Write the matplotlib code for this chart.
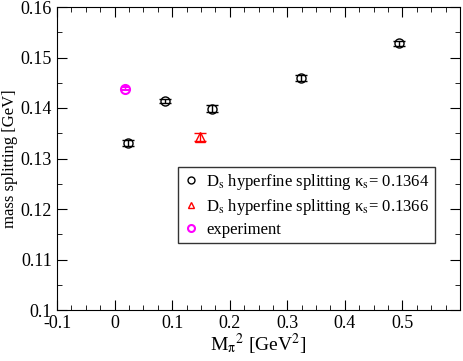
import matplotlib
matplotlib.use("Agg")
import matplotlib.pyplot as plt
from matplotlib.lines import Line2D
from matplotlib.ticker import MultipleLocator

plt.rcParams['font.family'] = ['Liberation Serif', 'DejaVu Serif']
plt.rcParams['mathtext.fontset'] = 'stix'

# D_s hyperfine splitting, kappa_s = 0.1364
mpi2_a = [0.0226, 0.0868, 0.1684, 0.323, 0.4948]
split_a = [0.1331, 0.1414, 0.1399, 0.1459, 0.1528]
err_a = [0.0006, 0.0004, 0.0006, 0.0006, 0.0005]

# kappa_s = 0.1366
mpi2_b = [0.1476]
split_b = [0.1343]
err_b = [0.0008]

# experiment
mpi2_exp = [0.0174]
split_exp = [0.1438]
err_exp = [0.0003]

labels = ['D$_{\\rm s}$ hyperfine splitting \u03ba$_{\\rm s}$= 0.1364',
          'D$_{\\rm s}$ hyperfine splitting \u03ba$_{\\rm s}$= 0.1366',
          'experiment']

fig = plt.figure(figsize=(4.63, 3.61), dpi=100)
ax = fig.add_axes([57/463, 1 - 310/361, 403/463, 303/361])

ax.errorbar(mpi2_a, split_a, yerr=err_a, fmt='o', mfc='none', mec='black',
            ecolor='black', ms=6.5, mew=1, elinewidth=1, capsize=4)
ax.errorbar(mpi2_b, split_b, yerr=err_b, fmt='^', mfc='none', mec='red',
            ecolor='red', ms=6.5, mew=1, elinewidth=1, capsize=4)
ax.errorbar(mpi2_exp, split_exp, yerr=err_exp, fmt='o', mfc='none', mec='magenta',
            ecolor='magenta', ms=6.5, mew=1.5, elinewidth=1, capsize=3)

ax.set_xlim(-0.1, 0.6)
ax.set_ylim(0.1, 0.16)
ax.set_xticks([-0.1, 0, 0.1, 0.2, 0.3, 0.4, 0.5])
ax.set_xticklabels(['-0.1', '0', '0.1', '0.2', '0.3', '0.4', '0.5'])
ax.set_yticks([0.1, 0.11, 0.12, 0.13, 0.14, 0.15, 0.16])
ax.set_yticklabels(['0.1', '0.11', '0.12', '0.13', '0.14', '0.15', '0.16'])
ax.xaxis.set_minor_locator(MultipleLocator(0.025))
ax.yaxis.set_minor_locator(MultipleLocator(0.005))
ax.tick_params(which='both', direction='in', top=True, right=True, labelsize=13)
ax.tick_params(which='major', length=7)
ax.tick_params(which='minor', length=3.5)

ax.set_xlabel(r'M$_{\mathrm{\pi}}$$^2$ [GeV$^2$]', fontsize=14, labelpad=0)
ax.set_ylabel('mass splitting [GeV]', fontsize=12)
ax.yaxis.set_label_coords(-39/403, 0.5)

handles = [
    Line2D([], [], ls='none', marker='o', mfc='none', mec='black', ms=5, mew=1),
    Line2D([], [], ls='none', marker='^', mfc='none', mec='red', ms=5, mew=1),
    Line2D([], [], ls='none', marker='o', mfc='none', mec='magenta', ms=5, mew=1.5),
]
leg = ax.legend(handles, labels, loc='upper left', bbox_to_anchor=(0.30, 0.472),
                fontsize=12, frameon=True, fancybox=False, edgecolor='black',
                handletextpad=0.4, borderpad=0.3, labelspacing=0.3,
                handlelength=1.0, borderaxespad=0)
leg.get_frame().set_linewidth(1)

fig.savefig('out.png', dpi=100)
